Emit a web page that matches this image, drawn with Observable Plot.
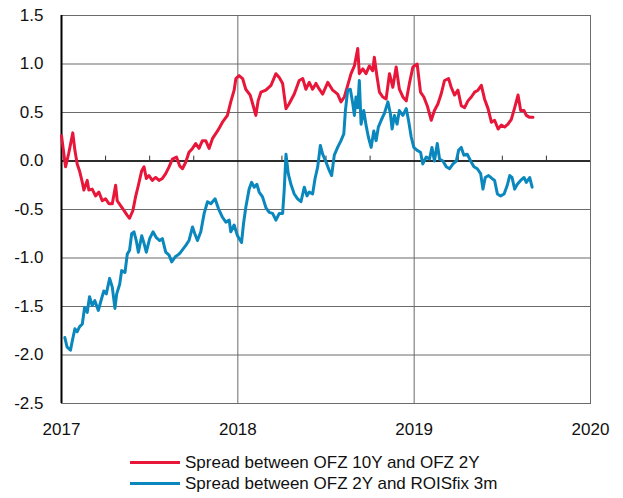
<!DOCTYPE html>
<html>
<head>
<meta charset="utf-8">
<script src="https://cdn.jsdelivr.net/npm/d3@7"></script>
<script src="https://cdn.jsdelivr.net/npm/@observablehq/plot@0.6"></script>
<style>
  html, body { margin: 0; padding: 0; background: #fff; }
  body { width: 623px; height: 498px; overflow: hidden; font-family: "Liberation Sans", Arial, sans-serif; }
  #legend { padding-left: 130px; padding-top: 12px; font-size: 17px; color: #111; }
  .row { display: flex; align-items: center; height: 21px; }
  .sw { width: 50px; height: 3px; margin-right: 5px; }
</style>
</head>
<body>
<div id="chart"></div>
<div id="legend"></div>
<script>
// Series: time in years since 2017-01-01, values in percentage points
const seriesNames = ["Spread between OFZ 10Y and OFZ 2Y", "Spread between OFZ 2Y and ROISfix 3m"];
const seriesColors = ["#E8173A", "#0A88BE"];

const redT = [0.000,0.023,0.041,0.064,0.076,0.089,0.102,0.118,0.127,0.146,0.155,0.174,0.193,0.212,0.231,0.250,0.269,0.288,0.307,0.316,0.335,0.354,0.373,0.386,0.405,0.420,0.436,0.455,0.468,0.481,0.496,0.515,0.534,0.553,0.572,0.591,0.610,0.629,0.652,0.670,0.686,0.705,0.723,0.743,0.761,0.780,0.799,0.818,0.837,0.856,0.885,0.913,0.941,0.960,0.979,0.989,1.007,1.027,1.045,1.070,1.084,1.102,1.115,1.131,1.159,1.188,1.216,1.235,1.254,1.273,1.291,1.320,1.348,1.368,1.386,1.405,1.424,1.443,1.462,1.481,1.510,1.538,1.566,1.585,1.604,1.623,1.642,1.661,1.680,1.689,1.709,1.727,1.746,1.765,1.774,1.790,1.803,1.822,1.841,1.860,1.879,1.898,1.916,1.936,1.955,1.973,1.993,2.017,2.036,2.055,2.074,2.097,2.115,2.135,2.153,2.172,2.195,2.210,2.229,2.248,2.267,2.286,2.305,2.324,2.343,2.362,2.381,2.399,2.419,2.438,2.456,2.476,2.494,2.513,2.532,2.551,2.570,2.589,2.604,2.623,2.636,2.655,2.674];
const redV = [0.26,-0.06,0.08,0.29,0.11,-0.03,-0.10,-0.22,-0.30,-0.20,-0.30,-0.29,-0.36,-0.32,-0.41,-0.39,-0.44,-0.44,-0.25,-0.41,-0.46,-0.51,-0.56,-0.59,-0.51,-0.37,-0.25,-0.10,-0.06,-0.18,-0.15,-0.20,-0.17,-0.20,-0.18,-0.13,-0.06,0.02,0.04,-0.05,-0.08,-0.01,0.09,0.13,0.18,0.13,0.21,0.21,0.13,0.23,0.31,0.40,0.47,0.61,0.73,0.85,0.88,0.85,0.74,0.68,0.59,0.47,0.62,0.71,0.73,0.78,0.90,0.86,0.80,0.54,0.59,0.69,0.83,0.85,0.74,0.81,0.74,0.80,0.74,0.69,0.81,0.73,0.69,0.61,0.66,0.78,0.90,0.98,1.16,0.90,0.95,0.90,0.98,0.93,1.07,0.86,0.71,0.66,0.64,0.90,0.76,0.97,0.74,0.66,0.62,0.80,0.97,1.00,0.71,0.66,0.57,0.42,0.52,0.59,0.69,0.83,0.85,0.76,0.68,0.73,0.57,0.55,0.62,0.66,0.71,0.73,0.78,0.64,0.54,0.40,0.42,0.33,0.37,0.35,0.38,0.43,0.55,0.68,0.52,0.52,0.47,0.45,0.45];

const blueT = [0.019,0.032,0.051,0.064,0.076,0.089,0.102,0.118,0.131,0.146,0.159,0.174,0.189,0.209,0.227,0.240,0.254,0.273,0.288,0.303,0.313,0.330,0.341,0.360,0.373,0.386,0.398,0.411,0.424,0.436,0.455,0.468,0.481,0.500,0.519,0.538,0.557,0.572,0.591,0.610,0.625,0.644,0.666,0.676,0.705,0.723,0.743,0.756,0.771,0.790,0.809,0.828,0.847,0.871,0.890,0.913,0.932,0.951,0.960,0.979,0.998,1.021,1.032,1.045,1.064,1.078,1.093,1.108,1.121,1.140,1.159,1.178,1.197,1.216,1.235,1.254,1.263,1.273,1.286,1.301,1.320,1.339,1.358,1.377,1.392,1.405,1.424,1.438,1.453,1.468,1.481,1.500,1.519,1.532,1.547,1.566,1.585,1.601,1.610,1.623,1.638,1.652,1.661,1.670,1.680,1.689,1.699,1.714,1.727,1.740,1.756,1.771,1.784,1.797,1.813,1.831,1.851,1.865,1.875,1.888,1.903,1.916,1.936,1.955,1.968,1.983,1.998,2.017,2.036,2.049,2.068,2.087,2.101,2.115,2.131,2.144,2.163,2.182,2.201,2.220,2.239,2.252,2.267,2.282,2.301,2.320,2.339,2.358,2.377,2.390,2.403,2.422,2.441,2.456,2.472,2.490,2.510,2.528,2.542,2.555,2.570,2.585,2.604,2.623,2.636,2.655,2.669];
const blueV = [-1.82,-1.92,-1.95,-1.83,-1.73,-1.76,-1.71,-1.68,-1.51,-1.56,-1.40,-1.49,-1.44,-1.54,-1.42,-1.34,-1.37,-1.21,-1.30,-1.52,-1.37,-1.27,-1.13,-1.15,-0.96,-0.92,-0.75,-0.73,-0.82,-0.94,-0.77,-0.85,-0.94,-0.80,-0.73,-0.79,-0.82,-0.80,-0.94,-0.97,-1.04,-0.99,-0.96,-0.94,-0.87,-0.82,-0.68,-0.75,-0.82,-0.73,-0.54,-0.42,-0.44,-0.39,-0.49,-0.58,-0.63,-0.61,-0.73,-0.66,-0.77,-0.84,-0.65,-0.48,-0.29,-0.22,-0.27,-0.24,-0.32,-0.37,-0.48,-0.53,-0.54,-0.61,-0.54,-0.54,-0.30,0.07,-0.13,-0.24,-0.34,-0.39,-0.42,-0.27,-0.36,-0.32,-0.34,-0.18,-0.06,0.16,0.07,-0.01,-0.10,-0.15,0.06,0.14,0.21,0.28,0.52,0.73,0.74,0.59,0.47,0.66,0.55,0.83,0.38,0.52,0.37,0.25,0.14,0.31,0.21,0.35,0.42,0.49,0.61,0.49,0.33,0.47,0.38,0.52,0.47,0.54,0.42,0.25,0.14,0.11,0.09,-0.03,0.04,0.02,0.14,0.00,0.18,0.02,0.00,-0.06,-0.08,-0.03,0.00,0.11,0.14,0.06,0.07,0.00,-0.06,-0.08,-0.13,-0.29,-0.17,-0.15,-0.18,-0.20,-0.34,-0.36,-0.34,-0.25,-0.15,-0.17,-0.29,-0.24,-0.20,-0.17,-0.22,-0.17,-0.27];

const yearTicks = [2017, 2018, 2019, 2020];
const quarterTicks = [2017.25, 2017.5, 2017.75, 2018.25, 2018.5, 2018.75, 2019.25, 2019.5, 2019.75];
const yTicks = [1.5, 1.0, 0.5, 0.0, -0.5, -1.0, -1.5, -2.0, -2.5];
const yTickLabels = ["1.5", "1.0", "0.5", "0.0", "-0.5", "-1.0", "-1.5", "-2.0", "-2.5"];

// convert fractional year to Date
const toDate = (yr) => {
  const y = Math.floor(yr + 1e-9);
  const a = Date.UTC(y, 0, 1), b = Date.UTC(y + 1, 0, 1);
  return new Date(a + (yr - y) * (b - a));
};
const red = redT.map((t, i) => ({date: toDate(2017 + t), value: redV[i]}));
const blue = blueT.map((t, i) => ({date: toDate(2017 + t), value: blueV[i]}));
const yearDates = yearTicks.map(toDate);
const quarterDates = quarterTicks.map(toDate);

const chart = Plot.plot({
  width: 623,
  height: 440,
  marginLeft: 61,
  marginRight: 33,
  marginTop: 15,
  marginBottom: 37,
  style: {fontFamily: '"Liberation Sans", Arial, sans-serif', fontSize: "17px", color: "#111", background: "#fff", overflow: "visible"},
  x: {type: "utc", domain: [yearDates[0], yearDates[3]]},
  y: {domain: [-2.5, 1.5]},
  marks: [
    Plot.gridY(yTicks, {stroke: "#6b6b6b", strokeOpacity: 1}),
    Plot.gridX(yearDates, {stroke: "#6b6b6b", strokeOpacity: 1}),
    Plot.frame({stroke: "#6b6b6b"}),
    Plot.ruleY([0], {stroke: "#000", strokeWidth: 1.5}),
    Plot.ruleX(quarterDates, {x: d => d, y1: 0, y2: 0.05, stroke: "#333", strokeWidth: 1}),
    Plot.ruleX([yearDates[0]], {stroke: "#000", strokeWidth: 2}),
    Plot.line(red, {x: "date", y: "value", stroke: seriesColors[0], strokeWidth: 3, strokeLinejoin: "round"}),
    Plot.line(blue, {x: "date", y: "value", stroke: seriesColors[1], strokeWidth: 3, strokeLinejoin: "round"}),
    Plot.axisX(yearDates, {tickSize: 0, tickPadding: 19, tickFormat: d => String(d.getUTCFullYear()), label: null}),
    Plot.axisY(yTicks, {tickSize: 0, tickPadding: 18, tickFormat: (d, i) => yTickLabels[i], label: null})
  ]
});
document.getElementById("chart").appendChild(chart);

const legend = document.getElementById("legend");
seriesNames.forEach((name, i) => {
  const row = document.createElement("div");
  row.className = "row";
  const sw = document.createElement("span");
  sw.className = "sw";
  sw.style.background = seriesColors[i];
  const tx = document.createElement("span");
  tx.textContent = name;
  row.appendChild(sw);
  row.appendChild(tx);
  legend.appendChild(row);
});
</script>
</body>
</html>
